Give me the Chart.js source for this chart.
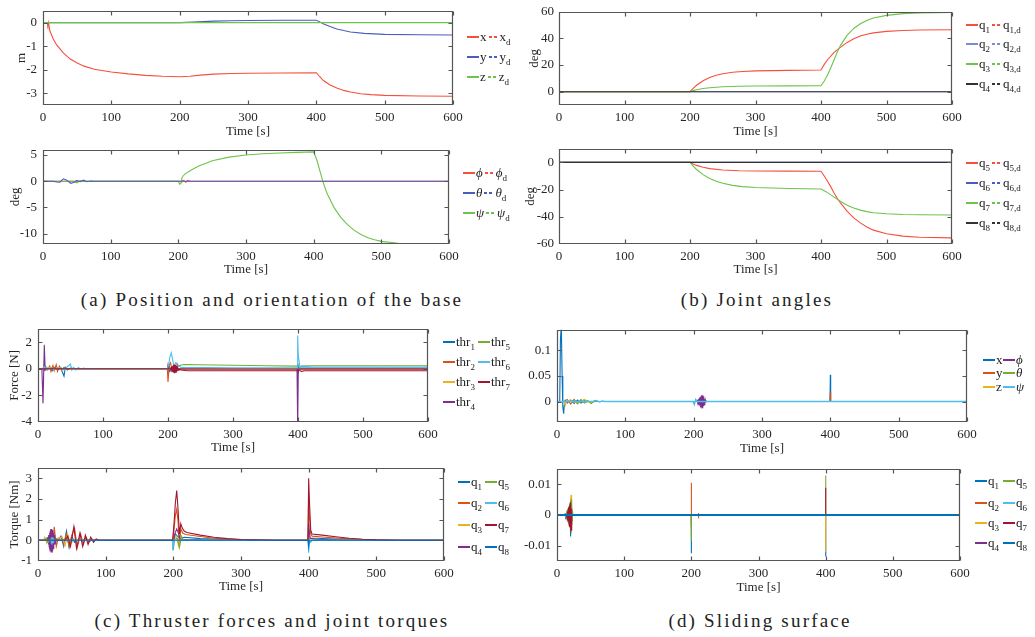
<!DOCTYPE html>
<html><head><meta charset="utf-8">
<script src="https://cdn.jsdelivr.net/npm/chart.js@4"></script>
<style>
body{margin:0;background:#fff;width:1035px;height:637px;overflow:hidden;position:relative;font-family:"Liberation Serif",serif;color:#222}
.c{position:absolute}
.lg{position:absolute;display:flex;align-items:center;white-space:nowrap;font-size:13px;line-height:16px;height:16px;color:#222}
.ln{display:inline-block;height:1.5px}
sub{font-size:9px;vertical-align:-4px;line-height:0}
.cap{position:absolute;font-size:19px;letter-spacing:2.2px;transform:translate(-50%,-50%);white-space:nowrap;color:#222}
</style></head><body>
<div class="cap" style="left:272px;top:300px">(a) Position and orientation of the base</div>
<div class="cap" style="left:757px;top:300px">(b) Joint angles</div>
<div class="cap" style="left:272px;top:621px">(c) Thruster forces and joint torques</div>
<div class="cap" style="left:760px;top:621px">(d) Sliding surface</div>
<script>
// ---------- tick labels ----------
const timeTicks = [0,100,200,300,400,500,600];
const ticksA1 = [-3,-2,-1,0];
const ticksA2 = [-10,-5,0,5];
const ticksB1 = [0,20,40,60];
const ticksB2 = [-60,-40,-20,0];
const ticksC1 = [-4,-2,0,2];
const ticksC2 = [-1,0,1,2,3];
const ticksD1 = [0,0.05,0.1];
const ticksD2 = [-0.01,0,0.01];

// ---------- (a) base position [m] ----------
const posX = [[0,0],[6,0],[7,-0.12],[8,0],[10,-0.35],[15,-0.7],[20,-0.95],[30,-1.3],[40,-1.55],[50,-1.72],[60,-1.85],[75,-1.98],[100,-2.1],[125,-2.18],[150,-2.24],[175,-2.28],[200,-2.3],[215,-2.28],[230,-2.23],[250,-2.19],[275,-2.16],[300,-2.15],[350,-2.14],[400,-2.13],[405,-2.3],[410,-2.45],[420,-2.65],[430,-2.78],[440,-2.88],[450,-2.95],[465,-3.02],[480,-3.06],[500,-3.09],[550,-3.12],[600,-3.13]];
const posY = [[0,0],[200,0],[220,0.02],[250,0.06],[275,0.08],[300,0.09],[350,0.1],[400,0.1],[405,0.03],[410,-0.05],[420,-0.17],[430,-0.27],[440,-0.34],[450,-0.4],[470,-0.46],[500,-0.5],[550,-0.52],[600,-0.53]];
const posZ = [[0,0],[600,0]];
// ---------- (a) base orientation [deg] ----------
const oriPhi = [[0,0],[205,0],[208,0.15],[211,-0.2],[214,0.15],[217,0],[600,0]];
const oriTheta = [[0,0],[15,0],[20,-0.15],[25,-0.2],[30,0.45],[35,0.2],[41,-0.4],[46,-0.2],[50,0.15],[55,-0.1],[60,0.2],[65,-0.1],[70,0.05],[75,0],[600,0]];
const oriPsi = [[0,0],[45,0],[50,-0.3],[55,0.1],[60,0],[200,0],[202,-0.6],[204,-0.3],[205,0.5],[207,1.0],[210,1.4],[220,2.2],[230,2.9],[240,3.4],[250,3.9],[275,4.6],[300,5.0],[325,5.25],[350,5.4],[375,5.5],[400,5.6],[405,3.9],[410,1.6],[415,-0.6],[420,-2.4],[430,-5.0],[440,-6.9],[450,-8.3],[460,-9.4],[470,-10.2],[480,-10.8],[490,-11.2],[500,-11.5],[525,-11.85],[550,-11.95],[600,-12]];
// ---------- (b) joint angles [deg] ----------
const jq1 = [[0,0],[200,0],[205,2.5],[210,4.8],[220,8.2],[230,10.6],[240,12.3],[250,13.5],[265,14.6],[280,15.2],[300,15.6],[350,16.0],[400,16.3],[405,20.5],[410,24],[420,29.5],[430,33.5],[440,37],[450,39.8],[460,41.8],[470,43.2],[480,44.2],[500,45.3],[525,46],[550,46.3],[600,46.5]];
const jq2 = [[0,0],[600,0]];
const jq3 = [[0,0],[200,0],[205,0.8],[210,1.5],[220,2.4],[230,3.0],[250,3.7],[275,4.1],[300,4.3],[350,4.4],[400,4.5],[405,8],[410,12.5],[415,18],[420,24],[425,30],[430,35],[440,42.5],[450,47.5],[460,51],[470,53.5],[480,55.3],[500,57.3],[525,58.6],[550,59.2],[600,59.6]];
const jq4 = [[0,0],[600,0]];
const jq5 = [[0,0],[200,0],[205,-1.2],[210,-2.2],[220,-3.6],[230,-4.6],[250,-5.6],[275,-6.1],[300,-6.3],[350,-6.45],[400,-6.5],[405,-10],[410,-13.8],[415,-18],[420,-22.5],[425,-26.5],[430,-30],[440,-36],[450,-40.8],[460,-44.5],[470,-47.5],[480,-49.8],[500,-52.5],[525,-54.2],[550,-55],[600,-55.5]];
const jq6 = [[0,0],[600,0]];
const jq7 = [[0,0],[200,0],[205,-2.8],[210,-5.2],[220,-9],[230,-11.8],[240,-13.8],[250,-15.3],[265,-16.9],[280,-17.8],[300,-18.5],[350,-19.2],[400,-19.6],[405,-20.8],[410,-22.2],[420,-25.5],[430,-28.8],[440,-31.5],[450,-33.6],[460,-35.1],[470,-36.2],[480,-37],[500,-37.8],[525,-38.3],[550,-38.5],[600,-38.7]];
const jq8 = [[0,0],[600,0]];
// ---------- (c) thruster forces [N] ----------
const thr1 = [[0,0],[8,0],[10,-0.1],[12,0.15],[14,-0.1],[18,0.1],[22,-0.15],[26,0.1],[30,-0.1],[35,0.05],[40,-0.55],[42,0.1],[45,-0.1],[50,0.05],[60,0],[200,0],[202,0.15],[205,-0.2],[210,0.1],[215,-0.1],[220,-0.06],[300,-0.06],[399,-0.06],[400,0.2],[401,-0.2],[403,0.05],[410,0.06],[600,0.06]];
const thr2 = [[0,0],[15,0],[18,0.2],[20,-0.2],[23,0.25],[25,-0.15],[28,0.3],[30,-0.2],[33,0.2],[36,-0.1],[40,0.1],[45,0],[199,0],[200,-1.0],[202,0.3],[204,0.45],[206,-0.1],[210,0.05],[220,-0.05],[400,-0.05],[600,-0.05]];
const thr3 = [[0,0],[20,0.1],[25,-0.1],[30,0.1],[35,0],[208,0],[210,0.1],[215,-0.1],[220,0],[600,0]];
const thr4 = [[0,0],[6,0],[7.7,-2.6],[9.7,1.8],[11,-0.1],[13,0],[199,0],[200,0.3],[202,-0.2],[205,0],[398.5,0],[399.5,-4.5],[400.5,0],[600,0]];
const thr5 = [[0,0],[210,0],[215,0.15],[220,0.28],[225,0.32],[250,0.3],[300,0.26],[350,0.23],[398,0.2],[400,0.3],[402,0.1],[405,0.2],[420,0.22],[600,0.22]];
const thr6 = [[0,0],[8,0],[10,0.15],[15,-0.1],[20,0.1],[25,-0.05],[35,0.1],[40,-0.1],[45,0.15],[50,0.35],[52,-0.1],[55,0.1],[58,-0.1],[62,0.1],[66,-0.05],[70,0.05],[75,-0.03],[80,0.02],[85,0],[199,0],[201,0.3],[203,0.9],[205,1.2],[207,0.7],[209,0.2],[212,0.45],[215,0.3],[220,0.1],[300,0.08],[398.5,0.08],[399.5,2.5],[400.5,1.0],[403,0.1],[405,0.2],[420,0.15],[600,0.13]];
const thr7 = [[0,0],[204,0],[205,0.1],[205.5,-0.1],[206,0.15],[206.5,-0.15],[207,0.2],[207.5,-0.2],[208,0.25],[208.5,-0.25],[209,0.3],[209.5,-0.3],[210,0.3],[210.5,-0.3],[211,0.3],[211.5,-0.3],[212,0.25],[212.5,-0.25],[213,0.2],[213.5,-0.2],[214,0.15],[214.5,-0.15],[215,0.1],[216,-0.1],[218,-0.05],[220,-0.1],[230,-0.15],[400,-0.15],[402,-0.1],[405,-0.2],[410,-0.15],[600,-0.15]];
// ---------- (c) joint torques [Nm] ----------
const tq1 = [[0,0],[30,0],[34,0.2],[38,-0.3],[42,0.45],[46,-0.35],[50,0.2],[54,-0.1],[58,0],[199,0],[203,0.3],[206,0.2],[210,0.1],[216,0.15],[240,0.08],[280,0.03],[320,0],[399,0],[400,0.4],[402,0.1],[410,0.1],[440,0.06],[480,0.02],[520,0],[600,0]];
const tq2 = [[0,0],[15,0],[18,0.2],[21,-0.6],[24,0.65],[27,-0.3],[30,0.1],[35,0.15],[38,-0.2],[42,0.3],[46,-0.3],[50,0.25],[54,0.6],[58,-0.35],[63,0.3],[67,-0.2],[71,0.15],[75,-0.1],[80,0.05],[85,0],[199,0],[201,0.5],[203,1.2],[205,1.5],[207,0.9],[209,-0.3],[211,0.55],[214,0.35],[218,0.28],[240,0.18],[260,0.1],[280,0.06],[300,0.03],[330,0],[399,0],[400,2.2],[401,1.2],[403,0.3],[405,0.2],[420,0.16],[440,0.11],[460,0.07],[480,0.04],[500,0.02],[530,0],[600,0]];
const tq3 = [[0,0],[8,0],[10,0.15],[13,-0.15],[16,0.1],[20,0],[36,0.15],[40,-0.25],[44,0.3],[48,-0.2],[52,0],[199,0],[204,0.2],[208,-0.3],[211,0.1],[214,0],[399,0],[400,0.3],[402,-0.1],[405,0],[600,0]];
const tq4 = [[0,0],[12,0],[14,0.1],[14.5,-0.1],[15,0.15],[15.5,-0.2],[16,0.25],[16.5,-0.3],[17,0.35],[17.5,-0.4],[18,0.45],[18.5,-0.5],[19,0.55],[19.5,-0.55],[20,0.55],[20.5,-0.55],[21,0.5],[21.5,-0.5],[22,0.45],[22.5,-0.4],[23,0.35],[23.5,-0.3],[24,0.25],[24.5,-0.2],[25,0.15],[26,-0.1],[27,0.05],[28,0],[199,0],[200,-0.45],[202,0.3],[205,0.55],[208,0.3],[210,0.05],[220,0.03],[250,0.01],[300,0],[399,0],[400,0.8],[402,0.1],[410,0.05],[450,0.01],[500,0],[600,0]];
const tq5 = [[0,0],[10,0],[12,0.1],[15,-0.1],[18,0.05],[22,0],[199,0],[206,0.1],[209,-0.35],[212,0.2],[215,0],[600,0]];
const tq6 = [[0,0],[18,0],[19,0.08],[19.5,-0.1],[20,0.15],[20.5,-0.15],[21,0.15],[21.5,-0.15],[22,0.12],[22.5,-0.1],[23,0.06],[24,0],[198.5,0],[199.5,-0.5],[201,0],[399,0],[400,-0.6],[401.5,0],[403,-0.1],[405,0],[600,0]];
const tq7 = [[0,0],[40,0],[44,0.2],[48,-0.3],[53,0.65],[57,-0.4],[62,0.35],[66,-0.3],[70,0.25],[74,-0.2],[78,0.15],[82,-0.1],[86,0.06],[90,0],[199,0],[201,0.8],[203,1.8],[205,2.4],[207,1.5],[209,0.3],[211,0.8],[213,0.6],[216,0.45],[220,0.38],[240,0.25],[260,0.15],[280,0.08],[300,0.04],[320,0.02],[350,0],[399,0],[400,3.0],[401,2.0],[403,0.5],[405,0.3],[420,0.25],[440,0.17],[460,0.1],[480,0.05],[500,0.02],[530,0],[600,0]];
const tq8 = [[0,0],[399,0],[400,-0.3],[401,0],[600,0]];
// ---------- (d) sliding surface, base ----------
const sx = [[0,0],[4,0],[5,0.12],[6.3,0.15],[7.5,0.05],[8.5,-0.01],[9.7,-0.024],[10.5,-0.01],[12,0.002],[15,-0.003],[20,0.003],[25,-0.004],[30,0.003],[35,-0.003],[40,0.002],[45,0],[399.5,0],[400,0.052],[400.5,0],[600,0]];
const sy = [[0,0],[10,0],[15,0.004],[20,-0.005],[25,0.004],[30,-0.004],[35,0.003],[40,-0.002],[45,0],[399.5,0],[400,0.018],[400.5,0],[600,0]];
const sz = [[0,0],[10,0],[12,-0.008],[14,0],[20,0.003],[30,-0.003],[40,0.004],[50,-0.003],[55,0],[600,0]];
const sphi = [[0,0],[204,0],[205,0.002],[205.5,-0.002],[206,0.003],[206.5,-0.004],[207,0.005],[207.5,-0.005],[208,0.006],[208.5,-0.007],[209,0.008],[209.5,-0.008],[210,0.009],[210.5,-0.01],[211,0.011],[211.5,-0.011],[212,0.012],[212.5,-0.012],[213,0.012],[213.5,-0.011],[214,0.01],[214.5,-0.009],[215,0.008],[215.5,-0.006],[216,0.005],[216.5,-0.004],[217,0.003],[217.5,-0.002],[218,0.001],[218.5,0],[600,0]];
const stheta = [[0,0],[20,0],[25,0.003],[30,-0.004],[35,0.004],[40,-0.003],[45,0.002],[50,-0.004],[55,0.002],[60,0],[600,0]];
const spsi = [[0,0],[55,0],[58,0.002],[62,-0.001],[66,0.001],[70,0],[199,0],[201,-0.006],[203,0.004],[205,0],[600,0]];
// ---------- (d) sliding surface, joints ----------
const sq1 = [[0,0],[10,0],[12,0.0003],[13,-0.0004],[14,0.0005],[15,-0.0008],[16,0.001],[17,-0.0015],[18,0.002],[19,-0.003],[19.5,0.002],[20,-0.007],[20.5,0.002],[21,-0.003],[22,0],[199.8,0],[200,-0.0125],[200.2,0],[399.8,0],[400,-0.0135],[400.2,0],[600,0]];
const sq2 = [[0,0],[199.8,0],[200,0.0105],[200.1,-0.004],[200.2,0],[210,0],[210.5,0.0006],[211,-0.0004],[211.5,0],[600,0]];
const sq3 = [[0,0],[14,0],[15,0.001],[15.5,-0.001],[16.5,0.0015],[17,-0.0015],[18,0.002],[18.5,-0.0025],[19.5,0.003],[20,-0.004],[20.5,0.005],[21,0.0065],[21.5,-0.006],[22,0.003],[22.5,-0.002],[23,0],[399.8,0],[400,-0.012],[400.2,0],[600,0]];
const sq4 = [[0,0],[600,0]];
const sq5 = [[0,0],[12,0],[13,0.0005],[13.5,-0.0005],[14,0.001],[14.5,-0.001],[15,0.0015],[15.5,-0.0015],[16,0.002],[16.5,-0.002],[17,0.0025],[17.5,-0.0025],[18,0.003],[18.5,-0.003],[19,0.0035],[19.5,-0.0035],[20,0.0045],[20.5,-0.004],[21,0.005],[21.5,-0.0045],[22,0.004],[22.5,-0.002],[23,0.001],[24,0],[199.8,0],[200,-0.0085],[200.2,0],[399.8,0],[400,0.0128],[400.2,0],[600,0]];
const sq6 = [[0,0],[600,0]];
const sq7 = [[0,0],[14,0],[15,-0.001],[15.5,0.001],[16,-0.0015],[16.5,0.0015],[17,-0.002],[17.5,0.0025],[18,-0.003],[18.5,0.003],[19,-0.004],[19.5,0.004],[20,-0.005],[20.5,0.004],[21,-0.005],[21.5,0.002],[22,0],[399.8,0],[400,0.0088],[400.2,0],[600,0]];
const sq8 = [[0,0],[600,0]];

// ---------- colours ----------
const M = ['#0072BD','#D95319','#EDB120','#7E2F8E','#77AC30','#4DBEEE','#A2142F'];
const RED='#f5503c', BLUE='#4a5cc0', GREEN='#6cc44a', BLACK='#333333', LBLUE='#7f8ad2';

const FONT = {family:'"Liberation Serif", serif', size:13};
const TXT = '#262626';

const boxPlugin = {
  id:'mbox',
  afterDraw(chart){
    const {ctx, chartArea:a, scales:{x,y}} = chart;
    ctx.save();
    ctx.strokeStyle='#555'; ctx.lineWidth=1.2;
    ctx.beginPath();
    const L=Math.round(a.left)+0.5, R=Math.round(a.right)-0.5, T=Math.round(a.top)+0.5, B=Math.round(a.bottom)-0.5;
    ctx.rect(L,T,R-L,B-T);
    x.ticks.forEach(t=>{const p=Math.round(x.getPixelForValue(t.value))+0.5;
      ctx.moveTo(p,B); ctx.lineTo(p,B-4); ctx.moveTo(p,T); ctx.lineTo(p,T+4);});
    y.ticks.forEach(t=>{const p=Math.round(y.getPixelForValue(t.value))+0.5;
      if(p<T+1||p>B-1) return;
      ctx.moveTo(L,p); ctx.lineTo(L+4,p); ctx.moveTo(R,p); ctx.lineTo(R-4,p);});
    ctx.stroke();
    ctx.restore();
  }
};

function makeChart(p){
  const YW = p.tx!=null ? p.L-(p.tx-8) : 45;
  const PT=8, PR=16;
  const XH = p.xy - p.B + 8.4;
  const div=document.createElement('div'); div.className='c';
  div.style.left=(p.L-YW)+'px'; div.style.top=(p.T-PT)+'px';
  div.style.width=(p.R-p.L+YW+PR)+'px'; div.style.height=(p.B-p.T+PT+XH)+'px';
  const cv=document.createElement('canvas'); div.appendChild(cv); document.body.appendChild(div);
  // Chart.js paints dataset 0 on top; reverse so the last series is on top (as in MATLAB)
  const ds = p.series.map(s=>({data:s.d.map(([x,y])=>({x,y})),borderColor:s.c,borderWidth:s.w||1.1,pointRadius:0,tension:0,fill:false})).reverse();
  new Chart(cv,{type:'line',
    data:{datasets:ds},
    options:{responsive:true,maintainAspectRatio:false,animation:false,devicePixelRatio:1,
      layout:{padding:{top:PT,right:PR,left:0,bottom:0}},
      plugins:{legend:{display:false},tooltip:{enabled:false}},
      scales:{
        x:{type:'linear',min:0,max:600,
          afterBuildTicks:s=>{s.ticks=timeTicks.map(v=>({value:v}));},
          afterFit:s=>{s.height=XH;},
          grid:{display:false,drawTicks:false,tickLength:0},border:{display:false},
          ticks:{font:FONT,color:TXT,padding:5,maxRotation:0,autoSkip:false,callback:v=>String(v)},
          title:{display:true,text:'Time [s]',font:FONT,color:TXT,padding:0}},
        y:{type:'linear',min:p.ymin,max:p.ymax,
          afterBuildTicks:s=>{s.ticks=p.yt.map(v=>({value:v}));},
          afterFit:s=>{s.width=YW;},
          grid:{display:false,drawTicks:false,tickLength:0},border:{display:false},
          ticks:{font:FONT,color:TXT,padding:p.tp||6,autoSkip:false,callback:v=>String(v)},
          title:{display:p.ytitle!=null,text:p.ytitle||'',font:FONT,color:TXT,padding:0}}
      }},
    plugins:[boxPlugin]});
}

function legend(x,y,parts){
  const d=document.createElement('div'); d.className='lg';
  d.style.left=x+'px'; d.style.top=(y-8)+'px';
  d.innerHTML=parts.map(q=>{
    if(q.t==='l'){
      const bg = q.dash ? `repeating-linear-gradient(90deg,${q.c} 0 3px,transparent 3px 5px)` : q.c;
      return `<span class="ln" style="width:${q.w}px;background:${bg};margin-right:1px"></span>`;
    }
    return `<span style="margin-right:${q.m||0}px">${q.h}</span>`;
  }).join('');
  document.body.appendChild(d);
}
function pairEntry(x,y,c,h,hd){
  legend(x,y,[{t:'l',w:12,c},{t:'x',h,m:2},{t:'l',w:10,c,dash:true},{t:'x',h:hd}]);
}
function singleEntry(x,y,c,h){
  legend(x,y,[{t:'l',w:12,c},{t:'x',h}]);
}

// ---------- panels ----------
makeChart({L:43,R:453,T:5,B:105,ymin:-3.5,ymax:0.5,yt:ticksA1,ytitle:'m',tx:22,xy:131,
  series:[{d:posX,c:RED},{d:posY,c:BLUE},{d:posZ,c:GREEN}]});
makeChart({L:43,R:449,T:144,B:244,ymin:-12,ymax:6,yt:ticksA2,ytitle:'deg',tx:16,xy:269,
  series:[{d:oriPhi,c:RED},{d:oriPsi,c:GREEN},{d:oriTheta,c:BLUE}]});
makeChart({L:559,R:952,T:7,B:105,ymin:-10,ymax:60,yt:ticksB1,ytitle:'deg',tx:535,tp:5,xy:131,
  series:[{d:jq1,c:RED},{d:jq2,c:LBLUE},{d:jq3,c:GREEN},{d:jq4,c:BLACK}]});
makeChart({L:559,R:952,T:144,B:244,ymin:-60,ymax:10,yt:ticksB2,ytitle:'deg',tx:531,tp:5,xy:269,
  series:[{d:jq5,c:RED},{d:jq6,c:BLUE},{d:jq7,c:GREEN},{d:jq8,c:BLACK}]});
makeChart({L:38,R:428,T:323,B:422,ymin:-4,ymax:3,yt:ticksC1,ytitle:'Force [N]',tx:15,xy:447,
  series:[{d:thr1,c:M[0]},{d:thr2,c:M[1]},{d:thr3,c:M[2]},{d:thr4,c:M[3]},{d:thr5,c:M[4]},{d:thr6,c:M[5]},{d:thr7,c:M[6]}]});
makeChart({L:38,R:444,T:462,B:561,ymin:-1,ymax:3.5,yt:ticksC2,ytitle:'Torque [Nm]',tx:15,xy:586,
  series:[{d:tq1,c:M[0]},{d:tq2,c:M[1]},{d:tq3,c:M[2]},{d:tq4,c:M[3]},{d:tq5,c:M[4]},{d:tq6,c:M[5]},{d:tq7,c:M[6]},{d:tq8,c:M[0]}]});
makeChart({L:557,R:967,T:324,B:422,ymin:-0.04,ymax:0.14,yt:ticksD1,xy:448,
  series:[{d:sx,c:M[0]},{d:sy,c:M[1]},{d:sz,c:M[2]},{d:sphi,c:M[3]},{d:stheta,c:M[4]},{d:spsi,c:M[5],w:1.4}]});
makeChart({L:557,R:960,T:463,B:561,ymin:-0.015,ymax:0.015,yt:ticksD2,xy:587,
  series:[{d:sq1,c:M[0]},{d:sq2,c:M[1]},{d:sq3,c:M[2]},{d:sq4,c:M[3]},{d:sq5,c:M[4]},{d:sq6,c:M[5]},{d:sq7,c:M[6]},{d:sq8,c:M[0],w:2}]});

// ---------- legends ----------
pairEntry(467,37,RED,'x','x<sub>d</sub>');
pairEntry(467,57,BLUE,'y','y<sub>d</sub>');
pairEntry(467,77,GREEN,'z','z<sub>d</sub>');
pairEntry(463,173,RED,'<i>ϕ</i>','<i>ϕ</i><sub>d</sub>');
pairEntry(463,193,BLUE,'<i>θ</i>','<i>θ</i><sub>d</sub>');
pairEntry(463,213,GREEN,'<i>ψ</i>','<i>ψ</i><sub>d</sub>');
pairEntry(966,25,RED,'q<sub>1</sub>','q<sub>1,d</sub>');
pairEntry(966,44,LBLUE,'q<sub>2</sub>','q<sub>2,d</sub>');
pairEntry(966,64,GREEN,'q<sub>3</sub>','q<sub>3,d</sub>');
pairEntry(966,84,BLACK,'q<sub>4</sub>','q<sub>4,d</sub>');
pairEntry(966,163,RED,'q<sub>5</sub>','q<sub>5,d</sub>');
pairEntry(966,183,BLUE,'q<sub>6</sub>','q<sub>6,d</sub>');
pairEntry(966,203,GREEN,'q<sub>7</sub>','q<sub>7,d</sub>');
pairEntry(966,223,BLACK,'q<sub>8</sub>','q<sub>8,d</sub>');
[[342,0,4],[362,1,5],[382,2,6],[402,3,null]].forEach(([y,a,b])=>{
  singleEntry(443,y,M[a],'thr<sub>'+(a+1)+'</sub>');
  if(b!=null) singleEntry(478,y,M[b],'thr<sub>'+(b+1)+'</sub>');
});
[[482,0,4],[503,1,5],[525,2,6],[547,3,7]].forEach(([y,a,b])=>{
  singleEntry(458,y,M[a],'q<sub>'+(a+1)+'</sub>');
  singleEntry(485,y,M[b%7],'q<sub>'+(b+1)+'</sub>');
});
[[360,0,3,'x','<i>ϕ</i>'],[373,1,4,'y','<i>θ</i>'],[387,2,5,'z','<i>ψ</i>']].forEach(([y,a,b,ha,hb])=>{
  singleEntry(983,y,M[a],ha);
  singleEntry(1003,y,M[b],hb);
});
[[481,0,4],[503,1,5],[523,2,6],[543,3,7]].forEach(([y,a,b])=>{
  singleEntry(975,y,M[a],'q<sub>'+(a+1)+'</sub>');
  singleEntry(1003,y,M[b%7],'q<sub>'+(b+1)+'</sub>');
});
</script>
</body></html>
